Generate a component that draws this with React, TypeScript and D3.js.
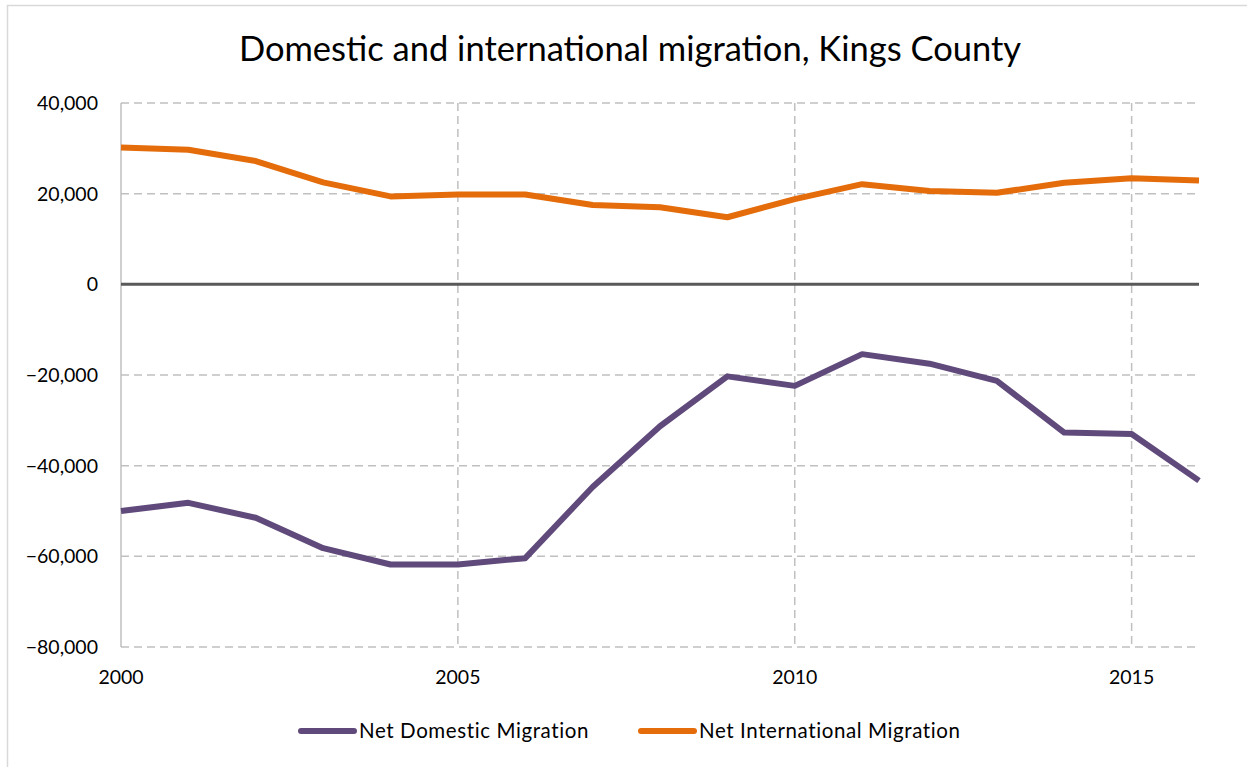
import React, { useEffect, useRef } from 'react';
import * as d3 from 'd3';

const years = [2000, 2001, 2002, 2003, 2004, 2005, 2006, 2007, 2008, 2009, 2010, 2011, 2012, 2013, 2014, 2015, 2016];
const domestic = [-50000, -48200, -51500, -58200, -61800, -61800, -60400, -44700, -31300, -20300, -22400, -15400, -17500, -21300, -32700, -33000, -43300];
const international = [30200, 29700, 27200, 22500, 19400, 19800, 19800, 17500, 17000, 14800, 18800, 22100, 20600, 20200, 22400, 23400, 22900];
const yTicks = [40000, 20000, 0, -20000, -40000, -60000, -80000];
const xTicks = [2000, 2005, 2010, 2015];
const seriesNames = ['Net Domestic Migration', 'Net International Migration'];
const seriesColors = ['#604A7B', '#E46C0A'];

const W = 1247;
const H = 767;
const FONT = 'Lato, "Liberation Sans", sans-serif';

export default function App() {
  const svgRef = useRef<SVGSVGElement>(null);

  useEffect(() => {
    const svg = d3.select(svgRef.current);
    svg.selectAll('*').remove();

    const x = d3.scaleLinear().domain([2000, 2016]).range([121, 1199]);
    const y = d3.scaleLinear().domain([-80000, 40000]).range([647, 103]);

    // chart frame (right/bottom edges fall outside the picture)
    svg.append('rect')
      .attr('x', 7.5).attr('y', 5.5)
      .attr('width', W + 20).attr('height', H + 20)
      .attr('fill', '#fff').attr('stroke', '#d9d9d9').attr('stroke-width', 1.5);

    svg.append('text')
      .attr('x', 630).attr('y', 61)
      .attr('text-anchor', 'middle')
      .attr('font-family', FONT).attr('font-size', 34.5)
      .attr('fill', '#000')
      .text('Domestic and international migration, Kings County');

    // gridlines
    const grid = svg.append('g').attr('stroke', '#c0c0c0').attr('stroke-width', 1.5).attr('stroke-dasharray', '8,5');
    yTicks.filter((t) => t !== 0).forEach((t) => {
      grid.append('line').attr('x1', 121).attr('x2', 1199).attr('y1', y(t)).attr('y2', y(t));
    });
    xTicks.filter((t) => t !== 2000).forEach((t) => {
      grid.append('line').attr('x1', x(t)).attr('x2', x(t)).attr('y1', 103).attr('y2', 647);
    });

    // left axis line
    svg.append('line')
      .attr('x1', 121).attr('x2', 121).attr('y1', 103).attr('y2', 647)
      .attr('stroke', '#bfbfbf').attr('stroke-width', 1.5);

    // zero line
    svg.append('line')
      .attr('x1', 121).attr('x2', 1199).attr('y1', y(0)).attr('y2', y(0))
      .attr('stroke', '#595959').attr('stroke-width', 3);

    const fmt = d3.format(',');
    svg.append('g').selectAll('text').data(yTicks).join('text')
      .attr('x', 98).attr('y', (d) => y(d) + 7)
      .attr('text-anchor', 'end')
      .attr('font-family', FONT).attr('font-size', 19.5)
      .text((d) => fmt(d));

    svg.append('g').selectAll('text').data(xTicks).join('text')
      .attr('x', (d) => x(d)).attr('y', 684)
      .attr('text-anchor', 'middle')
      .attr('font-family', FONT).attr('font-size', 19.5)
      .text((d) => String(d));

    const line = d3.line<number>()
      .x((_, i) => x(years[i]))
      .y((d) => y(d));

    [domestic, international].forEach((s, i) => {
      svg.append('path')
        .attr('d', line(s))
        .attr('fill', 'none')
        .attr('stroke', seriesColors[i])
        .attr('stroke-width', 6)
        .attr('stroke-linejoin', 'round');
    });

    // legend
    const legendX = [301, 641];
    seriesNames.forEach((name, i) => {
      const g = svg.append('g');
      g.append('line')
        .attr('x1', legendX[i]).attr('x2', legendX[i] + 53)
        .attr('y1', 731).attr('y2', 731)
        .attr('stroke', seriesColors[i]).attr('stroke-width', 6).attr('stroke-linecap', 'round');
      g.append('text')
        .attr('x', legendX[i] + 58).attr('y', 738)
        .attr('font-family', FONT).attr('font-size', 20.5)
        .attr('letter-spacing', 0.6)
        .text(name);
    });
  }, []);

  return (
    <svg
      ref={svgRef}
      width={W}
      height={H}
      style={{ position: 'absolute', left: 0, top: 0, background: '#fff' }}
    />
  );
}
